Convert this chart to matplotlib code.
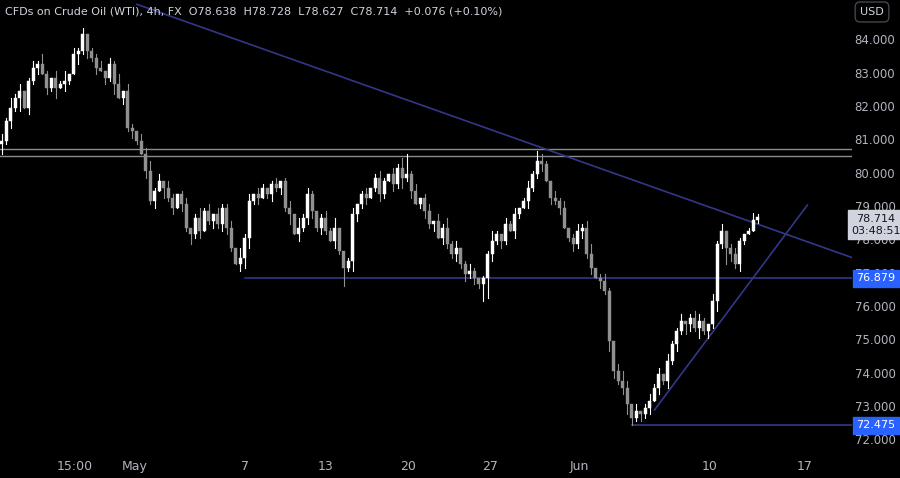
import numpy as np
import matplotlib.pyplot as plt
from matplotlib.patches import Rectangle

closes = [
    81.0, 81.6, 82.0, 82.3, 82.5, 82.0, 82.8, 83.2, 83.3, 83.0,
    82.6, 82.9, 82.6, 82.7, 82.8, 83.0, 83.6, 83.7, 84.2, 83.7,
    83.5, 83.2, 83.1, 82.9, 83.3, 82.7, 82.3, 82.5, 81.4, 81.3,
    81.0, 80.6, 80.1, 79.2, 79.5, 79.8, 79.6, 79.3, 79.0, 79.4,
    79.1, 78.4, 78.2, 78.7, 78.3, 78.9, 78.6, 78.8, 78.5, 79.0,
    78.4, 77.8, 77.3, 77.5, 78.1, 79.2, 79.4, 79.3, 79.6, 79.4,
    79.7, 79.6, 79.8, 79.0, 78.8, 78.2, 78.4, 78.7, 79.4, 78.9,
    78.4, 78.7, 78.3, 78.0, 78.4, 77.7, 77.2, 77.4, 78.8, 79.1,
    79.4, 79.3, 79.6, 79.9, 79.4, 79.8, 80.0, 79.7, 80.2, 79.9,
    80.0, 79.5, 79.1, 79.3, 78.9, 78.5, 78.6, 78.1, 78.4, 77.9,
    77.6, 77.8, 77.3, 77.0, 77.1, 76.9, 76.7, 76.9, 77.6, 78.0,
    78.2, 78.0, 78.5, 78.3, 78.8, 79.0, 79.2, 79.6, 80.0, 80.4,
    80.3, 79.8, 79.3, 79.2, 79.0, 78.4, 78.1, 77.9, 78.3, 78.4,
    77.6, 77.2, 76.9, 76.8, 76.5, 75.0, 74.1, 73.8, 73.6, 73.1,
    72.7, 72.9, 72.8, 73.0, 73.2, 73.6, 74.0, 73.8, 74.4, 74.9,
    75.3, 75.6, 75.5, 75.7, 75.4, 75.6, 75.3, 75.5, 76.2, 77.9,
    78.3, 77.8, 77.6, 77.3, 78.0, 78.2, 78.3, 78.638, 78.714,
]
first_open = 80.9
# wick lengths in tenths of a dollar, one digit per candle
upper_wicks = ("2131201213" "1021302150" "1120213021" "0213120210"
               "1201312021" "1203120210" "1201203121" "0121302120"
               "1201210213" "5120120213" "1201210213" "1021201213"
               "2102120121" "2301210232" "1201212021" "1201221021"
               "201210121")
lower_wicks = ("3121402120" "2130210312" "1202130212" "1021203120"
               "2131201212" "2102331201" "2121302122" "1210216132"
               "1201210213" "1201212021" "1212121462" "1210210211"
               "1021201212" "1202132123" "3121202121" "2132131213"
               "152121001")
# notable spikes (index: (high, low))
spikes = {18: (84.4, 83.6), 90: (80.62, 79.8), 120: (80.62, 80.1),
          140: (72.9, 72.475), 76: (77.4, 76.65), 107: (76.95, 76.2),
          32: (80.8, 79.9)}

x_tick_pos = [16.2, 29.6, 54, 71.8, 90.2, 108.4, 128.4, 157.3, 178.4]
x_tick_labels = ["15:00", "May", "7", "13", "20", "27", "Jun", "10", "17"]
y_ticks = [72, 73, 74, 75, 76, 77, 78, 79, 80, 81, 82, 83, 84]

resistance = [80.55, 80.75]
support_level = 76.879
low_level = 72.475
down_trend = [(30.0, 85.1), (190.0, 77.45)]
up_trend = [(145.0, 72.93), (179.0, 79.08)]

BG = "#000000"
TXT = "#b2b5be"
NAVY = "#33378a"

fig = plt.figure(figsize=(9, 4.78), dpi=100, facecolor=BG)
ax = fig.add_axes([0, 26 / 478, 852 / 900, 452 / 478])
ax.set_facecolor(BG)
ax.set_xlim(-0.44, 188.9)
ax.set_ylim(71.67, 85.23)

opens = [first_open] + closes[:-1]
for i, (o, c) in enumerate(zip(opens, closes)):
    hi = max(o, c) + int(upper_wicks[i]) / 10
    lo = min(o, c) - int(lower_wicks[i]) / 10
    if i in spikes:
        hi, lo = spikes[i]
    col = "#ffffff" if c >= o else "#909090"
    ax.plot([i, i], [lo, hi], color=col, lw=0.8, zorder=3)
    ax.add_patch(Rectangle((i - 0.33, min(o, c)), 0.66, max(abs(c - o), 0.02),
                           facecolor=col, edgecolor=col, lw=0.3, zorder=4))

for lvl in resistance:
    ax.axhline(lvl, color="#8c8c8c", lw=1, zorder=2)
ax.plot([54, 189], [support_level] * 2, color=NAVY, lw=1.2, zorder=2)
ax.plot([140, 189], [low_level] * 2, color=NAVY, lw=1.2, zorder=2)
ax.plot(*zip(*down_trend), color=NAVY, lw=1.2, zorder=2)
ax.plot(*zip(*up_trend), color=NAVY, lw=1.2, zorder=2)

for s in ax.spines.values():
    s.set_visible(False)
ax.set_yticks([])
ax.set_xticks(x_tick_pos)
ax.set_xticklabels(x_tick_labels, color=TXT, fontsize=9)
ax.tick_params(axis="x", length=0, pad=6)


def fig_y(price):
    return ax.transData.transform((0, price))[1] / 478


for y in y_ticks:
    ax.text(875 / 900, fig_y(y), f"{y:.3f}", transform=fig.transFigure,
            color=TXT, fontsize=8.5, ha="center", va="center")


def price_box(y, label, fc, tc, extra=None):
    txt = label if extra is None else label + "\n" + extra
    yf = fig_y(y) if extra is None else fig_y(y) - 0.016
    fig.text(876 / 900, yf, txt, color=tc, fontsize=8, ha="center",
             va="center", linespacing=1.3, zorder=5,
             bbox=dict(boxstyle="square,pad=0.3", fc=fc, ec=fc))


price_box(support_level, "76.879", "#2962ff", "#ffffff")
price_box(low_level, "72.475", "#2962ff", "#ffffff")
price_box(78.714, "78.714", "#d1d4dc", "#131722", "03:48:51")

fig.text(5 / 900, 1 - 11 / 478,
         "CFDs on Crude Oil (WTI), 4h, FX  O78.638  H78.728  L78.627  C78.714  +0.076 (+0.10%)",
         color="#d1d4dc", fontsize=8, va="center")
fig.text(872 / 900, 1 - 12 / 478, "USD", color="#d1d4dc", fontsize=8,
         ha="center", va="center",
         bbox=dict(boxstyle="round,pad=0.45", fc=BG, ec="#434651"))

fig.savefig("out.png", dpi=100, facecolor=BG)
